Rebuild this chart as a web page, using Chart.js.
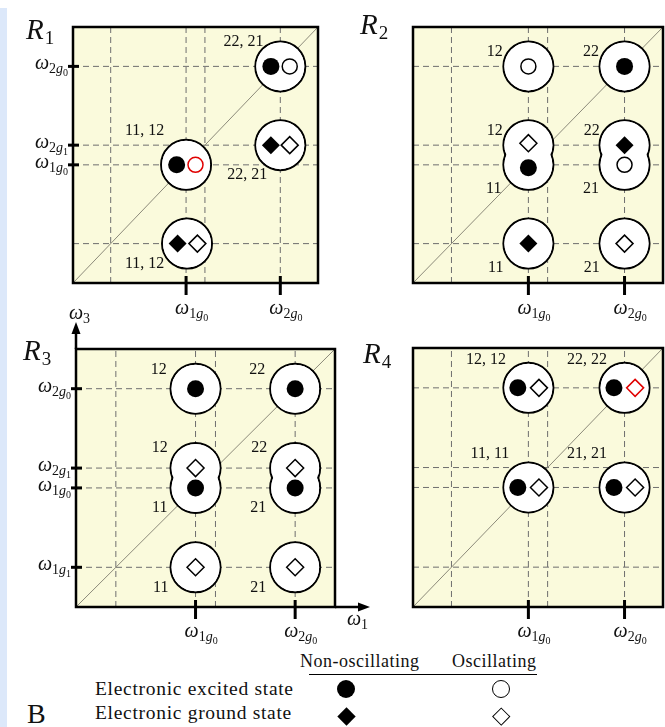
<!DOCTYPE html>
<html lang="en">

<head>
    <meta charset="UTF-8">
    <meta name="viewport" content="width=device-width, initial-scale=1.0">
    <script src="https://cdn.jsdelivr.net/npm/chart.js@4.4.1/dist/chart.umd.min.js"></script>
    <title>Regions R1 - R4</title>
    <style>
        html, body { margin: 0; padding: 0; background: #fff; }
        #page { position: relative; width: 665px; height: 727px; overflow: hidden; background: #fff; }
        #strip { position: absolute; left: 0; top: 8px; bottom: 0; width: 7px; background: #dce8fa; }
        canvas { position: absolute; }
        .lg { position: absolute; font-family: "Liberation Serif", serif; font-size: 19.5px; line-height: 1; white-space: nowrap; color: #111; letter-spacing: 0.7px; }
        .hd { font-size: 18px; letter-spacing: 0.5px; }
        .sym { position: absolute; box-sizing: border-box; }
    </style>
</head>

<body>
<div id="page">
    <div id="strip"></div>
    <canvas id="c1" width="345" height="330" style="left:0;top:0"></canvas>
    <canvas id="c2" width="345" height="330" style="left:345px;top:0"></canvas>
    <canvas id="c3" width="380" height="345" style="left:0;top:300px"></canvas>
    <canvas id="c4" width="345" height="327" style="left:345px;top:318px"></canvas>

    <div class="lg hd" style="left:300px;top:652px">Non-oscillating</div>
    <div class="lg hd" style="left:452px;top:652px">Oscillating</div>
    <div style="position:absolute;left:309px;top:674px;width:228px;height:1px;background:#000"></div>
    <div class="lg" style="left:95px;top:679px">Electronic excited state</div>
    <div class="lg" style="left:95px;top:703px">Electronic ground state</div>
    <div class="lg" style="left:27px;top:700px;font-size:28px;letter-spacing:0">B</div>
    <div class="sym" style="left:337px;top:680px;width:18px;height:18px;border-radius:50%;background:#000"></div>
    <div class="sym" style="left:492px;top:680px;width:18px;height:18px;border-radius:50%;border:1.5px solid #000"></div>
    <div class="sym" style="left:340px;top:710px;width:13px;height:13px;background:#000;transform:rotate(45deg)"></div>
    <div class="sym" style="left:495px;top:710px;width:12.5px;height:12.5px;border:1.5px solid #000;transform:rotate(45deg)"></div>
</div>

<script>
// frequency axis (both axes use the same units)
const axisMax = 260;
const gridX = [40, 120, 140, 220];
const gridY = [40, 120, 140, 220];

// R1
const r1Rings = [[120, 120], [121, 40], [220, 220], [220, 140]];
const r1Excited = [[110, 120], [210, 220]];
const r1ExcitedOsc = [[230, 220]];
const r1ExcitedOscRed = [[130, 120]];
const r1Ground = [[111, 40], [210, 140]];
const r1GroundOsc = [[132, 40], [230, 140]];
const r1Labels = ['22, 21', '11, 12', '22, 21', '11, 12'];
const r1LabelAt = [[181, 245], [76, 155], [185, 110], [76, 19]];
const r1TicksX = [[120, '1', '0'], [220, '2', '0']];
const r1TicksY = [[220, '2', '0'], [140, '2', '1'], [120, '1', '0']];

// R2
const r2Rings = [[120, 220], [220, 220], [120, 140], [120, 120], [220, 140], [220, 120], [120, 40], [220, 40]];
const r2Excited = [[220, 220], [120, 117]];
const r2ExcitedOsc = [[120, 220], [220, 120]];
const r2Ground = [[220, 140], [120, 40]];
const r2GroundOsc = [[120, 142], [220, 40]];
const r2Labels = ['12', '22', '12', '22', '11', '21', '11', '21'];
const r2LabelAt = [[85, 235], [185, 235], [85, 155], [186, 155], [84, 96], [185, 96], [86, 15], [186, 15]];
const r2TicksX = [[120, '1', '0'], [220, '2', '0']];

// R3
const r3Rings = [[120, 220], [220, 220], [120, 140], [120, 120], [220, 140], [220, 120], [120, 40], [220, 40]];
const r3Excited = [[120, 220], [220, 220], [120, 120], [220, 120]];
const r3GroundOsc = [[120, 140], [220, 140], [120, 40], [220, 40]];
const r3Labels = ['12', '22', '12', '22', '11', '21', '11', '21'];
const r3LabelAt = [[83, 239], [182, 239], [84, 160], [184, 160], [84, 100], [183, 100], [85, 19], [183, 19]];
const r3TicksX = [[120, '1', '0'], [220, '2', '0']];
const r3TicksY = [[220, '2', '0'], [140, '2', '1'], [120, '1', '0'], [40, '1', '1']];

// R4
const r4Rings = [[120, 220], [220, 220], [120, 120], [220, 120]];
const r4Excited = [[109, 220], [209, 220], [109, 120], [209, 120]];
const r4GroundOsc = [[131, 220], [131, 120], [231, 120]];
const r4GroundOscRed = [[231, 220]];
const r4Labels = ['12, 12', '22, 22', '11, 11', '21, 21'];
const r4LabelAt = [[76, 248], [181, 248], [80, 154], [181, 154]];
const r4TicksX = [[120, '1', '0'], [220, '2', '0']];

const SERIF = '"Liberation Serif", serif';

function xy(arr) { return arr.map(p => ({ x: p[0], y: p[1] })); }

function dashed(data) {
    return { data: data, showLine: true, borderColor: '#6e6e6e', borderWidth: 1, borderDash: [6, 4], pointRadius: 0, order: 60 };
}

function marks(arr, style, order) {
    return Object.assign({ data: xy(arr), showLine: false, clip: false, order: order, pointHoverRadius: style.pointRadius }, style);
}

const ring = { pointStyle: 'circle', pointRadius: 25, pointBackgroundColor: '#fff', pointBorderColor: '#000', pointBorderWidth: 2 };
const hole = { pointStyle: 'circle', pointRadius: 24, pointBackgroundColor: '#fff', pointBorderWidth: 0 };
const exc = { pointStyle: 'circle', pointRadius: 8.5, pointBackgroundColor: '#000', pointBorderWidth: 0 };
const excOsc = { pointStyle: 'circle', pointRadius: 7.5, pointBackgroundColor: '#fff', pointBorderColor: '#000', pointBorderWidth: 1.5 };
const excOscRed = { pointStyle: 'circle', pointRadius: 7.5, pointBackgroundColor: '#fff', pointBorderColor: '#e00000', pointBorderWidth: 1.5 };
const gnd = { pointStyle: 'rectRot', pointRadius: 9, pointBackgroundColor: '#000', pointBorderWidth: 0 };
const gndOsc = { pointStyle: 'rectRot', pointRadius: 8.5, pointBackgroundColor: '#fff', pointBorderColor: '#000', pointBorderWidth: 1.5 };
const gndOscRed = { pointStyle: 'rectRot', pointRadius: 8.5, pointBackgroundColor: '#fff', pointBorderColor: '#e00000', pointBorderWidth: 1.5 };

// omega with a two level subscript, e.g. ω_{1g_0}
function drawOmega(ctx, x, y, s, ss, align) {
    const parts = [
        { t: 'ω', f: 'italic 20px ' + SERIF, dy: 0 },
        { t: s, f: '14px ' + SERIF, dy: 4 },
        { t: ss === null ? '' : 'g', f: 'italic 14px ' + SERIF, dy: 4 },
        { t: ss === null ? '' : ss, f: '10px ' + SERIF, dy: 7 }
    ];
    let w = 0;
    parts.forEach(p => { ctx.font = p.f; p.w = ctx.measureText(p.t).width; w += p.w; });
    let cx = align === 'right' ? x - w : x;
    ctx.textAlign = 'left';
    ctx.textBaseline = 'alphabetic';
    parts.forEach(p => { ctx.font = p.f; ctx.fillText(p.t, cx, y + p.dy); cx += p.w; });
}

function panelPlugin(p) {
    return {
        id: 'panel',
        beforeDatasetsDraw(chart) {
            const a = chart.chartArea, ctx = chart.ctx;
            ctx.save();
            ctx.fillStyle = '#fafadc';
            ctx.fillRect(a.left, a.top, a.right - a.left, a.bottom - a.top);
            ctx.restore();
        },
        afterDatasetsDraw(chart) {
            const a = chart.chartArea, ctx = chart.ctx;
            const sx = chart.scales.x, sy = chart.scales.y;
            ctx.save();
            ctx.strokeStyle = '#000';
            ctx.lineWidth = 2.5;
            ctx.strokeRect(a.left, a.top, a.right - a.left, a.bottom - a.top);

            // state labels
            ctx.fillStyle = '#111';
            ctx.font = '16px ' + SERIF;
            ctx.textAlign = 'center';
            ctx.textBaseline = 'middle';
            p.labels.forEach((t, i) => {
                ctx.fillText(t, sx.getPixelForValue(p.labelAt[i][0]), sy.getPixelForValue(p.labelAt[i][1]));
            });

            // ticks
            ctx.lineWidth = 3;
            (p.ticksX || []).forEach(t => {
                const px = sx.getPixelForValue(t[0]);
                ctx.beginPath();
                ctx.moveTo(px, a.bottom - 7);
                ctx.lineTo(px, a.bottom + 12);
                ctx.stroke();
                drawOmega(ctx, px - 11, a.bottom + p.xLabelDy, t[1], t[2], 'left');
            });
            (p.ticksY || []).forEach(t => {
                const py = sy.getPixelForValue(t[0]);
                ctx.beginPath();
                ctx.moveTo(a.left - 5, py);
                ctx.lineTo(a.left + 6, py);
                ctx.stroke();
                drawOmega(ctx, a.left - 5, py + 3, t[1], t[2], 'right');
            });

            // panel name R_n
            ctx.textAlign = 'left';
            ctx.textBaseline = 'alphabetic';
            ctx.font = 'italic 29px ' + SERIF;
            ctx.fillText('R', p.title[0], p.title[1]);
            const rw = ctx.measureText('R').width;
            ctx.font = '19px ' + SERIF;
            ctx.fillText(p.name, p.title[0] + rw + 1, p.title[1] + 5);

            // axis arrows
            if (p.arrows) {
                ctx.lineWidth = 2.5;
                ctx.fillStyle = '#000';
                ctx.beginPath();
                ctx.moveTo(a.left, a.top);
                ctx.lineTo(a.left, a.top - 18);
                ctx.moveTo(a.right, a.bottom);
                ctx.lineTo(a.right + 24, a.bottom);
                ctx.stroke();
                ctx.beginPath();
                ctx.moveTo(a.left, a.top - 27);
                ctx.lineTo(a.left - 4.5, a.top - 15);
                ctx.lineTo(a.left + 4.5, a.top - 15);
                ctx.closePath();
                ctx.fill();
                ctx.beginPath();
                ctx.moveTo(a.right + 35, a.bottom);
                ctx.lineTo(a.right + 23, a.bottom - 4.5);
                ctx.lineTo(a.right + 23, a.bottom + 4.5);
                ctx.closePath();
                ctx.fill();
                ctx.fillStyle = '#111';
                drawOmega(ctx, a.left - 7, a.top - 30, '3', null, 'left');
                drawOmega(ctx, a.right + 12, a.bottom + 18, '1', null, 'left');
            }
            ctx.restore();
        }
    };
}

function buildPanel(id, p) {
    const datasets = [];
    gridX.forEach(v => datasets.push(dashed([{ x: v, y: 0 }, { x: v, y: axisMax }])));
    gridY.forEach(v => datasets.push(dashed([{ x: 0, y: v }, { x: axisMax, y: v }])));
    datasets.push({ data: [{ x: 0, y: 0 }, { x: axisMax, y: axisMax }], showLine: true, borderColor: '#8c8a7a', borderWidth: 1, pointRadius: 0, order: 50 });
    datasets.push(marks(p.rings, ring, 40));
    datasets.push(marks(p.rings, hole, 30));
    if (p.excited) datasets.push(marks(p.excited, exc, 10));
    if (p.excitedOsc) datasets.push(marks(p.excitedOsc, excOsc, 10));
    if (p.excitedOscRed) datasets.push(marks(p.excitedOscRed, excOscRed, 10));
    if (p.ground) datasets.push(marks(p.ground, gnd, 10));
    if (p.groundOsc) datasets.push(marks(p.groundOsc, gndOsc, 10));
    if (p.groundOscRed) datasets.push(marks(p.groundOscRed, gndOscRed, 10));

    return new Chart(document.getElementById(id), {
        type: 'scatter',
        data: { datasets: datasets },
        options: {
            responsive: false,
            animation: false,
            events: [],
            layout: { padding: p.pad },
            scales: {
                x: { type: 'linear', min: 0, max: axisMax, display: false },
                y: { type: 'linear', min: 0, max: axisMax, display: false }
            },
            plugins: { legend: { display: false }, tooltip: { enabled: false } }
        },
        plugins: [panelPlugin(p)]
    });
}

buildPanel('c1', {
    pad: { left: 73, top: 25, right: 12, bottom: 47 },
    rings: r1Rings, excited: r1Excited, excitedOsc: r1ExcitedOsc, excitedOscRed: r1ExcitedOscRed,
    ground: r1Ground, groundOsc: r1GroundOsc,
    labels: r1Labels, labelAt: r1LabelAt, ticksX: r1TicksX, ticksY: r1TicksY, xLabelDy: 31,
    title: [26, 39], name: '1'
});

buildPanel('c2', {
    pad: { left: 68, top: 25, right: 17, bottom: 47 },
    rings: r2Rings, excited: r2Excited, excitedOsc: r2ExcitedOsc,
    ground: r2Ground, groundOsc: r2GroundOsc,
    labels: r2Labels, labelAt: r2LabelAt, ticksX: r2TicksX, xLabelDy: 31,
    title: [15, 34], name: '2'
});

buildPanel('c3', {
    pad: { left: 76, top: 49, right: 45, bottom: 38 },
    rings: r3Rings, excited: r3Excited, groundOsc: r3GroundOsc,
    labels: r3Labels, labelAt: r3LabelAt, ticksX: r3TicksX, ticksY: r3TicksY, xLabelDy: 30,
    title: [23, 60], name: '3', arrows: true
});

buildPanel('c4', {
    pad: { left: 68, top: 30, right: 17, bottom: 38 },
    rings: r4Rings, excited: r4Excited, groundOsc: r4GroundOsc, groundOscRed: r4GroundOscRed,
    labels: r4Labels, labelAt: r4LabelAt, ticksX: r4TicksX, xLabelDy: 30,
    title: [18, 45], name: '4'
});
</script>
</body>

</html>
